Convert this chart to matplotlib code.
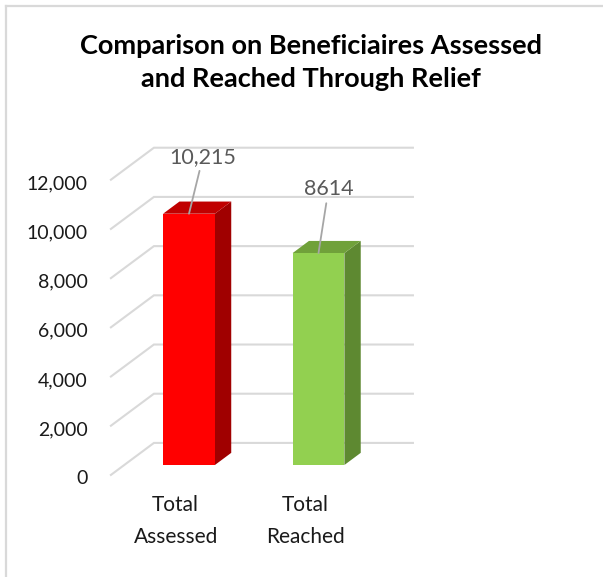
import matplotlib.pyplot as plt
from matplotlib.patches import Polygon
from matplotlib.lines import Line2D

categories = ["Total\nAssessed", "Total\nReached"]
values = [10215, 8614]
value_labels = ["10,215", "8614"]
ticks = [0, 2000, 4000, 6000, 8000, 10000, 12000]
tick_labels = ["0", "2,000", "4,000", "6,000", "8,000", "10,000", "12,000"]

front_colors = ["#FF0000", "#92D050"]
top_colors = ["#C00000", "#70A13A"]
side_colors = ["#A00000", "#5E8931"]
label_offsets = [(14, 57), (10, 64)]

FONT = ["Lato", "DejaVu Sans"]
GRID = "#D9D9D9"

# pixel layout of the plot box
PX_CAT = 129.5      # pixels per category step
PX_VAL = 0.0246     # pixels per unit of value
X0, Y0 = 189, 465   # pixel position of category 0 / value 0 on the bar plane
W, H = 603, 577

# depth direction (front floor edge -> back wall) in data units
DX = 43 / PX_CAT
DY = 32 / PX_VAL
D_FRONT, D_BACK = 0.31, 0.69   # bar front / back planes


def proj(x, v, d):
    """Shift a point on the bar plane to depth d (0 = front edge, 1 = back wall)."""
    return x + (d - D_FRONT) * DX, v + (d - D_FRONT) * DY


fig = plt.figure(figsize=(W / 100, H / 100), dpi=100)
ax = fig.add_axes([0, 0, 1, 1])
ax.set_xlim(-X0 / PX_CAT, (W - X0) / PX_CAT)
ax.set_ylim((Y0 - H) / PX_VAL, Y0 / PX_VAL)
ax.axis("off")

# chart border (top and left edges visible)
fig.add_artist(Line2D([6 / W, 1], [1 - 6 / H, 1 - 6 / H], color=GRID, lw=1.6))
fig.add_artist(Line2D([6 / W, 6 / W], [0, 1 - 6 / H], color=GRID, lw=1.6))

x_left, x_right = -0.5, len(categories) - 0.5

# gridlines: side-wall diagonals and back-wall horizontals
for t, lab in zip(ticks, tick_labels):
    fx, fy = proj(x_left, t, 0)
    bx, by = proj(x_left, t, 1)
    rx, ry = proj(x_right, t, 1)
    ax.plot([fx, bx, rx], [fy, by, ry], color=GRID, lw=1.5, zorder=1,
            solid_joinstyle="miter")
    ax.annotate(lab, (fx, fy), xytext=(-23, -4), textcoords="offset pixels",
                ha="right", va="center", fontsize=14, color="#1a1a1a",
                family=FONT)

# bars: front faces from ax.bar, top and side faces as polygons
half = 0.2
ox, oy = (D_BACK - D_FRONT) * DX, (D_BACK - D_FRONT) * DY
xs = list(range(len(categories)))
ax.bar(xs, values, width=2 * half, color=front_colors, zorder=3)
for x, v, tc, sc in zip(xs, values, top_colors, side_colors):
    side = [(x + half, 0), (x + half, v), (x + half + ox, v + oy), (x + half + ox, oy)]
    top = [(x - half, v), (x + half, v), (x + half + ox, v + oy), (x - half + ox, v + oy)]
    ax.add_patch(Polygon(side, closed=True, facecolor=sc, edgecolor="none", zorder=2))
    ax.add_patch(Polygon(top, closed=True, facecolor=tc, edgecolor="none", zorder=2))

# data labels with leader lines
for x, v, lab, off in zip(xs, values, value_labels, label_offsets):
    ax.annotate(lab, (x, v), xytext=off, textcoords="offset pixels",
                ha="center", va="center", fontsize=15.5, color="#595959",
                family=FONT, zorder=5,
                arrowprops=dict(arrowstyle="-", color="#A6A6A6", lw=1.3,
                                shrinkA=1, shrinkB=0))

# category labels along the front floor edge
for x, cat in zip(xs, categories):
    fx, fy = proj(x, 0, 0)
    ax.annotate(cat, (fx, fy), xytext=(0, -46), textcoords="offset pixels",
                ha="center", va="center", fontsize=15, color="#1a1a1a",
                family=FONT, linespacing=1.72)

fig.text(311 / W, 1 - 62.5 / H, "Comparison on Beneficiaires Assessed\nand Reached Through Relief",
         ha="center", va="center", fontsize=19.5, fontweight="bold",
         family=FONT, linespacing=1.49)

fig.savefig("out.png", dpi=100)
